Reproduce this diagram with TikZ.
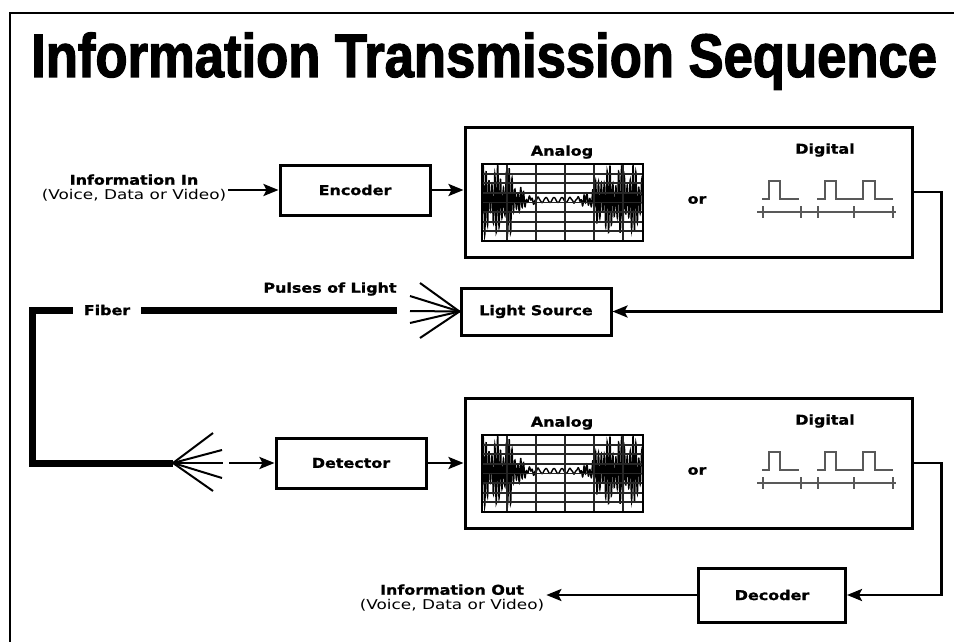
\documentclass[tikz,border=0pt]{standalone}
\usepackage{fontspec}
\setmainfont{DejaVu Sans}
\newfontfamily\titlefont{Liberation Sans}[FakeStretch=0.855, FakeBold=2]
\newfontfamily\boldfont{DejaVu Sans Bold}[FakeStretch=1.18, FakeBold=1.2]
\newfontfamily\plainfont{DejaVu Sans}[FakeStretch=1.25]
\usetikzlibrary{arrows.meta}

\tikzset{
  box/.style={draw, line width=3pt, minimum width=150pt, minimum height=50pt,
    font=\boldfont\fontsize{13.5}{15}\selectfont},
  panel/.style={draw, line width=3pt, minimum width=447pt, minimum height=130pt},
  lbl/.style={font=\boldfont\fontsize{13.5}{15}\selectfont},
  info/.style={align=center, inner sep=2pt, font=\plainfont\fontsize{13.5}{15}\selectfont},
  conn/.style={->, line width=2.5pt},
  fiberline/.style={line width=7pt},
  ray/.style={line width=2pt},
  grid/.style={line width=1.8pt, black!85},
  pulse/.style={line width=1.6pt, black!65}
}

\begin{document}
\begin{tikzpicture}[x=1pt, y=-1pt, >={Stealth[length=15pt,width=12pt,inset=3pt]}, line join=miter]
    \useasboundingbox (0,0) rectangle (954,642);
    \draw[line width=2pt] (954,13) -- (10,13) -- (10,642);
    \node[anchor=base west, inner sep=0, font=\titlefont\bfseries\fontsize{61.5}{62}\selectfont]
        (title) at (31,77) {Information Transmission Sequence};

    % blocks
    \node[box] (encoder) at (355,190) {Encoder};
    \node[panel] (sigtop) at (688.5,192) {};
    \node[box, minimum height=47pt] (light) at (536,311.5) {Light Source};
    \node[box] (detector) at (351,463) {Detector};
    \node[panel] (sigbot) at (688.5,463) {};
    \node[box, minimum width=147pt, minimum height=54pt] (decoder) at (772,595) {Decoder};

    \node[info] (infoin) at (134,188) {{\boldfont Information In}\\(Voice, Data or Video)};
    \node[info] (infoout) at (452,598) {{\boldfont Information Out}\\(Voice, Data or Video)};

    % signal panels
    \foreach \dy/\nm in {0/top, 271/bot} {
        \begin{scope}[shift={(0,\dy)}]
            \node[lbl] (analog\nm) at (562,152) {Analog};
            \node[lbl] (digital\nm) at (825,150) {Digital};
            \node[lbl] (or\nm) at (697,200) {or};
            \begin{scope}
                \clip (483,165) rectangle (642,240);
                \draw[line width=1.4pt] plot[domain=-78:86, samples=1200]
                    ({556+\x}, {200 + 2.5*sin(\x*45)
                      + min(34, 34*(\x/46)^4)*sin(\x*125)*(0.7+0.3*sin(\x*29))});
            \end{scope}
            \foreach \gx in {507,536,565,594,623}
                \draw[grid] (\gx,164) -- (\gx,241);
            \foreach \k in {1,...,7}
                \draw[grid] (482,{164+9.625*\k}) -- (643,{164+9.625*\k});
            \draw[line width=2.5pt] (482,164) rectangle (643,241);
            \draw[pulse] (762,199) -- (769,199) -- (769,181) -- (780,181) -- (780,199) -- (799,199);
            \draw[pulse] (817,199) -- (825,199) -- (825,181) -- (836,181) -- (836,199) -- (863,199)
                -- (863,181) -- (875,181) -- (875,199) -- (893,199);
            \draw[pulse] (757,212) -- (896,212);
            \foreach \tx in {763,801,818,854,893}
                \draw[pulse] (\tx,206) -- (\tx,218);
        \end{scope}
    }

    % fiber
    \node[lbl, inner xsep=11pt] (fiber) at (107,310) {Fiber};
    \node[lbl] (pulses) at (330,289) {Pulses of Light};
    \coordinate (fibtip) at (397,310);
    \coordinate (bend) at (32,310);
    \coordinate (fanB) at (173,463);
    \coordinate (detin) at (229,463);
    \draw[fiberline] (fiber.east) -- (fibtip);
    \draw[fiberline] (fiber.west) -- (bend) |- (fanB);
    \foreach \px/\py in {420/283, 410/296, 410/311, 410/323, 420/338}
        \draw[ray] (light.west) -- (\px,\py);
    \foreach \px/\py in {213/433, 222/450, 223/463, 222/478, 213/491}
        \draw[ray] (fanB) -- (\px,\py);

    % connectors
    \draw[conn] (infoin.east |- encoder) -- (encoder);
    \draw[conn] (encoder.east) -- (encoder.east -| sigtop.west);
    \draw[conn] (sigtop.east) -- ++(28,0) |- (light.east);
    \draw[conn] (detin) -- (detector);
    \draw[conn] (detector) -- (sigbot);
    \draw[conn] (sigbot.east) -- ++(28,0) |- (decoder.east);
    \draw[conn] (decoder) -- (infoout.east |- decoder);
\end{tikzpicture}
\end{document}
